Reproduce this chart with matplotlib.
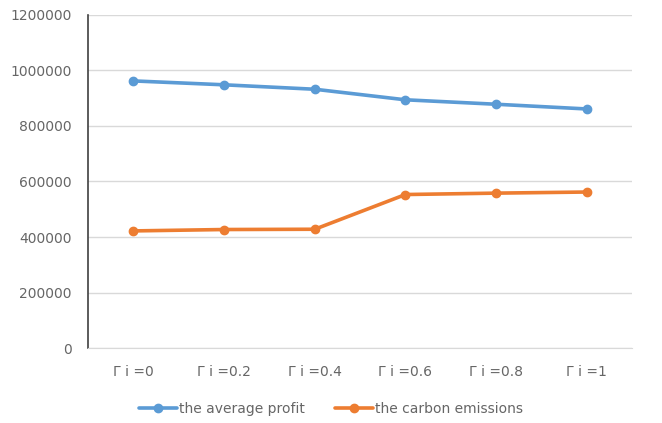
import matplotlib
matplotlib.use("Agg")
import matplotlib.pyplot as plt

categories = ["Γ i =0", "Γ i =0.2", "Γ i =0.4", "Γ i =0.6", "Γ i =0.8", "Γ i =1"]
avg_profit = [962000, 948000, 932000, 894000, 878000, 861000]
carbon_emissions = [422000, 427000, 428000, 553000, 558000, 562000]
yticks = [0, 200000, 400000, 600000, 800000, 1000000, 1200000]

fig = plt.figure(figsize=(6.62, 4.23), dpi=100)
ax = fig.add_axes([0.133, 0.177, 0.822, 0.788])

x = list(range(len(categories)))
ax.plot(x, avg_profit, color="#5B9BD5", lw=2.6, marker="o", ms=6, label="the average profit", solid_capstyle="round")
ax.plot(x, carbon_emissions, color="#ED7D31", lw=2.6, marker="o", ms=6, label="the carbon emissions", solid_capstyle="round")

ax.set_xlim(-0.5, len(categories) - 0.5)
ax.set_ylim(0, 1200000)
ax.set_yticks(yticks)
ax.set_yticklabels([str(v) for v in yticks])
ax.set_xticks(x)
ax.set_xticklabels(categories)
ax.grid(axis="y", color="#D9D9D9", lw=1)
ax.set_axisbelow(True)
for s in ["top", "right"]:
    ax.spines[s].set_visible(False)
ax.spines["bottom"].set_color("#D9D9D9")
ax.spines["left"].set_color("#404040")
ax.spines["left"].set_linewidth(1.2)
ax.tick_params(axis="both", length=0, colors="#666666", labelsize=10)
ax.tick_params(axis="y", pad=12)
ax.tick_params(axis="x", pad=12)

leg = fig.legend(loc="center", bbox_to_anchor=(0.5, 0.033), ncol=2, frameon=False,
                 fontsize=10, handlelength=2.7, handletextpad=0.15, columnspacing=2.2,
                 labelcolor="#666666")
fig.savefig("out.png", dpi=100)
